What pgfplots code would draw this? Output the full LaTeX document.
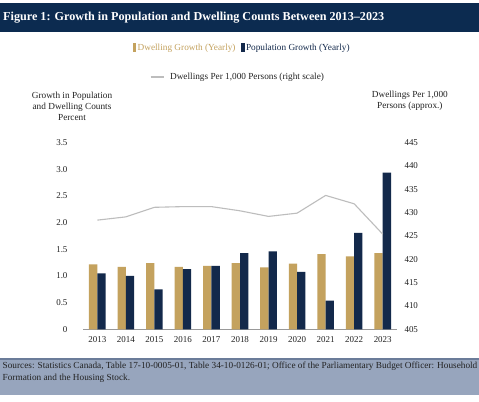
\documentclass[border=0pt]{standalone}
\usepackage{fontspec}
\setmainfont{Liberation Serif}
\usepackage{pgfplots}
\pgfplotsset{compat=1.18}

\definecolor{gold}{HTML}{C4A25E}
\definecolor{navy}{HTML}{13294B}
\definecolor{titlebar}{HTML}{0C2B50}
\definecolor{footbg}{HTML}{97A5BD}
\definecolor{footline}{HTML}{6B7C99}
\definecolor{ratio}{HTML}{BDBDBD}
\definecolor{txt}{HTML}{222222}

\pgfplotstableread{
x dwell pop ratio
0  1.22 1.05  428.4
1  1.17 1.00  429.1
2  1.24 0.75  431.15
3  1.17 1.13  431.3
4  1.19 1.19  431.3
5  1.24 1.43  430.4
6  1.16 1.46  429.2
7  1.23 1.075 429.9
8  1.41 0.54  433.7
9  1.37 1.81  431.9
10 1.43 2.94  425.4
}\growth

\begin{document}
\begin{tikzpicture}
\useasboundingbox (0bp,0bp) rectangle (479bp,-402bp);
\fill[white] (0bp,0bp) rectangle (479bp,-402bp);
% title bar
\fill[titlebar] (0bp,-2.7bp) rectangle (479bp,-32.3bp);
\node[anchor=west, white, inner sep=0pt, font=\fontsize{12.2}{14}\selectfont\bfseries]
  at (3bp,-17.5bp) {Figure 1: Growth in Population and Dwelling Counts Between 2013--2023};
% footer
\fill[footbg] (0bp,-359bp) rectangle (479bp,-395bp);
\draw[footline, line width=1.2bp] (0bp,-359bp) -- (479bp,-359bp);
\node[anchor=north west, align=left, inner sep=0pt, txt, font=\fontsize{9.3}{12}\selectfont]
  at (2.5bp,-361.5bp) {Sources: Statistics Canada, Table 17-10-0005-01, Table 34-10-0126-01; Office of the Parliamentary Budget Officer: Household\\Formation and the Housing Stock.};

\begin{axis}[
    at={(83bp,-329.3bp)}, anchor=south west,
    scale only axis, width=314bp, height=186.6bp,
    xmin=-0.5, xmax=10.5,
    ymin=0, ymax=3.5,
    xtick=data,
    xticklabels={2013,2014,2015,2016,2017,2018,2019,2020,2021,2022,2023},
    ytick={0,0.5,1,1.5,2,2.5,3,3.5},
    yticklabels={0,0.5,1.0,1.5,2.0,2.5,3.0,3.5},
    axis x line*=bottom, axis y line*=left,
    x axis line style={draw=black!40, line width=1.2bp},
    y axis line style={draw=none},
    major tick length=0pt,
    xticklabel style={yshift=-4bp},
    yticklabel style={xshift=-12bp},
    tick label style={font=\fontsize{9}{10}\selectfont, text=txt},
    /pgf/number format/assume math mode=true,
    ylabel={Growth in Population\\and Dwelling Counts\\Percent},
    every axis y label/.style={at={(axis description cs:-0.035,1.197)}, anchor=center,
      align=center, font=\fontsize{9.3}{11}\selectfont, text=txt},
    legend style={at={(axis description cs:0.506,1.508)}, anchor=center,
      draw=none, fill=none, inner sep=0pt, font=\fontsize{9.3}{11}\selectfont,
      nodes={inner xsep=1.5bp},
      /tikz/every even column/.append style={column sep=4bp}},
    legend columns=2,
    legend cell align=left,
]
\addplot[ybar, bar width=8.3bp, bar shift=-4.15bp, fill=gold, draw=none,
  legend image code/.code={\fill[gold] (0bp,-4.5bp) rectangle (3.5bp,4.5bp);}]
  table[x=x, y=dwell] {\growth};
\addlegendentry{\textcolor{gold}{Dwelling Growth (Yearly)}}
\addplot[ybar, bar width=8.3bp, bar shift=4.15bp, fill=navy, draw=none,
  legend image code/.code={\fill[navy] (0bp,-4.5bp) rectangle (3.5bp,4.5bp);}]
  table[x=x, y=pop] {\growth};
\addlegendentry{\textcolor{navy}{Population Growth (Yearly)}}
\end{axis}

\begin{axis}[
    at={(83bp,-329.3bp)}, anchor=south west,
    scale only axis, width=314bp, height=186.6bp,
    xmin=-0.5, xmax=10.5,
    ymin=405, ymax=445,
    ytick={405,410,...,445},
    axis y line*=right, axis x line=none,
    y axis line style={draw=none},
    major tick length=0pt,
    yticklabel style={xshift=4bp},
    tick label style={font=\fontsize{9}{10}\selectfont, text=txt},
    /pgf/number format/assume math mode=true,
    ylabel={Dwellings Per 1,000\\Persons (approx.)},
    every axis y label/.style={at={(axis description cs:1.041,1.226)}, anchor=center,
      align=center, font=\fontsize{9.3}{11}\selectfont, text=txt},
    legend style={at={(axis description cs:0.5,1.352)}, anchor=center,
      draw=none, fill=none, inner sep=0pt, font=\fontsize{9.3}{11}\selectfont,
      nodes={inner xsep=6bp}},
]
\addplot[ratio, line width=1.1bp,
  legend image code/.code={\draw[ratio, line width=1.1bp] (0bp,0bp) -- (13bp,0bp);}]
  table[x=x, y=ratio] {\growth};
\addlegendentry{\textcolor{txt}{Dwellings Per 1,000 Persons (right scale)}}
\end{axis}
\end{tikzpicture}
\end{document}
